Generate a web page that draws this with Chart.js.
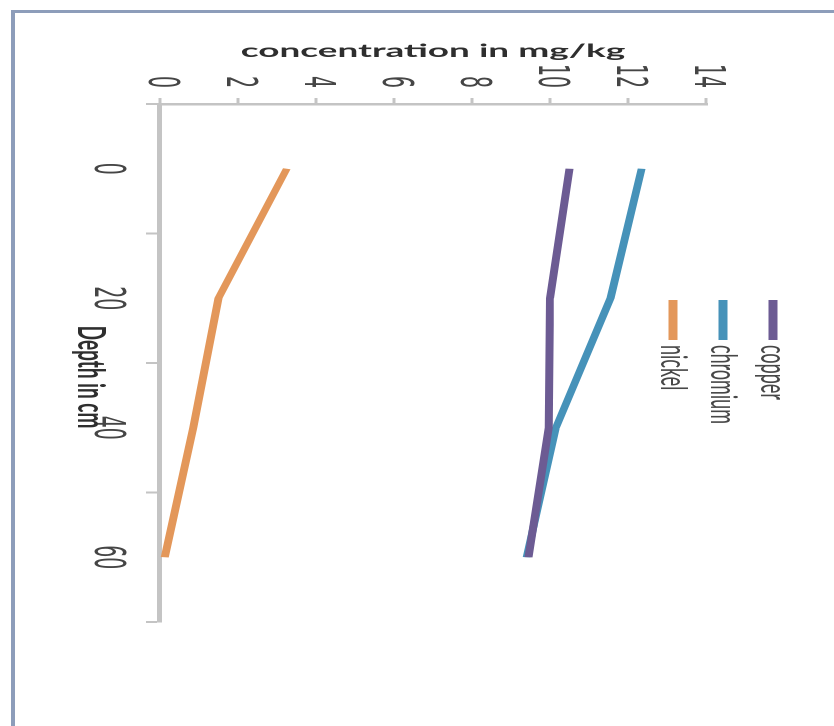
<!DOCTYPE html>
<html>
<head>
<meta charset="utf-8">
<script src="https://cdn.jsdelivr.net/npm/chart.js@4"></script>
<style>
  html, body { margin: 0; padding: 0; background: #fff; width: 834px; height: 726px; overflow: hidden; }
  #frame {
    position: absolute; left: 11px; top: 10px; width: 900px; height: 800px;
    border-left: 4px solid #8d9dba; border-top: 3px solid #8d9dba;
  }
  /* the chart is laid out upright, then turned a quarter clockwise and widened */
  #turn {
    position: absolute; left: 0; top: 0; width: 726px; height: 417px;
    transform-origin: 0 0;
    transform: translate(834px, 0) scale(2, 1) rotate(90deg);
  }
  #c { display: block; }
</style>
</head>
<body>
<div id="frame"></div>
<div id="turn"><canvas id="c" width="726" height="417"></canvas></div>
<script>
// depth categories (cm)
const depthLabels = ['0', '20', '40', '60'];
// concentration in mg/kg at each depth
const copper   = [10.5, 10.0, 9.97, 9.45];
const chromium = [12.35, 11.55, 10.15, 9.4];
const nickel   = [3.25, 1.5, 0.85, 0.12];
const seriesNames = ['copper', 'chromium', 'nickel'];
// concentration axis ticks
const concMin = 0, concMax = 14, concStep = 2;
const depthTitle = 'Depth in cm';

const colors = ['#6c5b93', '#4692b9', '#e3975a'];
const seriesValues = [copper, chromium, nickel];

const FONT = 'Lato';
const TICK_FONT = '"Liberation Sans Narrow", "DejaVu Sans Condensed", Lato';
const axisGray = '#c4c4c4';

// legend as a short vertical list, plus the depth axis title
const listLegend = {
  id: 'listLegend',
  afterDraw(chart) {
    const ctx = chart.ctx;
    const x0 = 300, y0 = 30.5, gap = 25;
    chart.data.datasets.forEach((ds, i) => {
      const y = y0 + i * gap;
      ctx.save();
      ctx.strokeStyle = ds.borderColor;
      ctx.lineWidth = 4.5;
      ctx.beginPath();
      ctx.moveTo(x0, y);
      ctx.lineTo(x0 + 40, y);
      ctx.stroke();
      ctx.fillStyle = '#474747';
      ctx.font = '18px ' + FONT;
      ctx.textBaseline = 'middle';
      ctx.textAlign = 'left';
      ctx.fillText(ds.label, x0 + 45, y);
      ctx.restore();
    });
    const area = chart.chartArea;
    ctx.save();
    ctx.fillStyle = '#2e2e2e';
    ctx.font = 'bold 19px ' + FONT;
    ctx.textAlign = 'center';
    ctx.textBaseline = 'middle';
    ctx.fillText(depthTitle, (area.left + area.right) / 2 + 14, area.bottom + 35);
    ctx.restore();
  }
};

new Chart(document.getElementById('c'), {
  type: 'line',
  data: {
    labels: depthLabels,
    datasets: seriesNames.map((name, i) => ({
      label: name,
      data: seriesValues[i],
      borderColor: colors[i],
      backgroundColor: colors[i],
      borderWidth: 4,
      pointRadius: 0,
      tension: 0,
      fill: false,
      borderCapStyle: 'butt'
    }))
  },
  options: {
    responsive: false,
    devicePixelRatio: 2,
    animation: false,
    layout: { padding: { top: 64, right: 104, bottom: 0, left: 0 } },
    plugins: { legend: { display: false }, tooltip: { enabled: false } },
    scales: {
      x: {
        type: 'category',
        position: 'bottom',
        offset: true,
        grid: {
          offset: true, drawOnChartArea: false, drawTicks: true,
          tickLength: 7, tickColor: axisGray, tickWidth: 2
        },
        border: { display: true, color: axisGray, width: 2.5 },
        ticks: {
          color: '#454545', font: { family: TICK_FONT, size: 21 },
          padding: 7.5, maxRotation: 0, autoSkip: false
        },
        title: { display: false },
        afterFit(s) { s.height = 80; }
      },
      y: {
        type: 'linear',
        position: 'left',
        min: concMin, max: concMax,
        grid: {
          drawOnChartArea: false, drawTicks: true,
          tickLength: 6, tickColor: axisGray, tickWidth: 1.5
        },
        border: { display: true, color: axisGray, width: 2.5 },
        ticks: {
          stepSize: concStep, color: '#454545',
          font: { family: TICK_FONT, size: 21 }, padding: 10
        },
        title: {
          display: true, text: 'concentration in mg/kg', color: '#2e2e2e',
          font: { family: FONT, size: 18.5, weight: 'bold' },
          padding: { top: 40, bottom: 0 }
        },
        afterFit(s) { s.width = 104; }
      }
    }
  },
  plugins: [listLegend]
});
</script>
</body>
</html>
